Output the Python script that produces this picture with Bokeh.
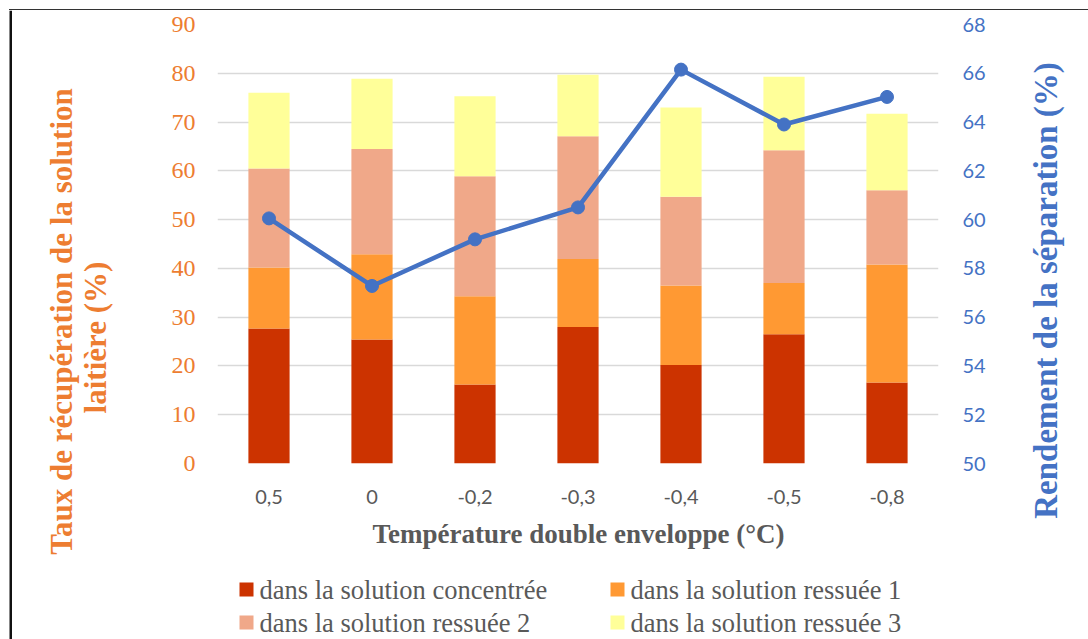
from math import pi
from bokeh.plotting import figure
from bokeh.layouts import column, row, Spacer
from bokeh.models import (ColumnDataSource, Range1d, FactorRange, LinearAxis,
                          SingleIntervalTicker, BoxAnnotation)
from bokeh.core.properties import value
from bokeh.embed import file_html
from bokeh.resources import INLINE

# ---------------- data ----------------
categories = ["0,5", "0", "-0,2", "-0,3", "-0,4", "-0,5", "-0,8"]
concentree = [27.7, 25.4, 16.2, 28.0, 20.2, 26.5, 16.6]
ressuee1 = [12.5, 17.5, 18.1, 13.9, 16.3, 10.5, 24.2]
ressuee2 = [20.3, 21.6, 24.6, 25.2, 18.2, 27.2, 15.2]
ressuee3 = [15.5, 14.4, 16.4, 12.6, 18.3, 15.1, 15.7]
rendement = [60.05, 57.28, 59.19, 60.5, 66.15, 63.9, 65.03]

series_keys = ["c", "r1", "r2", "r3"]
series_names = ["dans la solution concentrée", "dans la solution ressuée 1",
                "dans la solution ressuée 2", "dans la solution ressuée 3"]
series_colors = ["#CC3300", "#FF9933", "#F0A889", "#FFFF99"]

left_title = ["Taux de récupération de la solution", "laitière (%)"]
right_title = "Rendement de la séparation (%)"
x_title = "Température double enveloppe (°C)"

source = ColumnDataSource(dict(cat=categories, c=concentree, r1=ressuee1,
                               r2=ressuee2, r3=ressuee3, rend=rendement))

SERIF = "Liberation Serif"
SANS = "Lato"
GREY = "#595959"
ORANGE = "#ED7D31"
BLUE = "#4472C4"
FRAME_DARK = "#111111"
FRAME_GREY = "#333333"

# page geometry (pixels of the 1088 x 639 picture)
W, H = 1088, 639
TOP_H = 10          # height above the chart strips (white gap + frame line)
MAIN_L, MAIN_R = 150, 1000
MAIN_B = 512


def blank(x0, x1, y_top, y_bot):
    f = figure(width=x1 - x0, height=y_bot - y_top, output_backend="svg",
               toolbar_location=None, x_axis_type=None, y_axis_type=None,
               x_range=Range1d(x0, x1), y_range=Range1d(y_bot, y_top),
               min_border=0, frame_align=False)
    f.outline_line_color = None
    f.grid.grid_line_color = None
    f.background_fill_color = "white"
    f.border_fill_color = "white"
    return f


def vborder(f, y_top, y_bot):
    f.add_layout(BoxAnnotation(left=9, right=11.5, top=y_top, bottom=y_bot,
                               fill_color=FRAME_DARK, fill_alpha=1,
                               line_color=None))


def put_text(f, x, y, text, size, color, angle=0.0, bold=True, align="center"):
    f.text(x=[x], y=[y], text=[text], angle=angle,
           text_align=align, text_baseline="middle",
           text_font=value(SERIF), text_font_style="bold" if bold else "normal",
           text_font_size=size, text_color=color)


# ---------------- top frame line (a 1px dark strip) ----------------
line_strip = Spacer(width=W - 9, height=1,
                    styles={"background-color": FRAME_GREY})
top_block = column(Spacer(width=W, height=TOP_H - 1),
                   row(Spacer(width=9, height=1), line_strip))

# ---------------- main chart ----------------
p = figure(width=MAIN_R - MAIN_L, height=MAIN_B - TOP_H, output_backend="svg",
           toolbar_location=None, frame_align=False,
           x_range=FactorRange(*categories, range_padding=0),
           y_range=Range1d(0, 90),
           min_border_left=217 - MAIN_L, min_border_right=MAIN_R - 938,
           min_border_top=24 - TOP_H, min_border_bottom=MAIN_B - 463)
p.outline_line_color = None
p.background_fill_color = "white"
p.border_fill_color = "white"
p.extra_y_ranges = {"right": Range1d(50, 68)}

p.vbar_stack(series_keys, x="cat", width=0.4, source=source,
             color=series_colors, line_color=None)

p.line(x="cat", y="rend", source=source, y_range_name="right",
       line_width=4.5, color=BLUE)
p.scatter(x="cat", y="rend", source=source, y_range_name="right",
          size=13, color=BLUE)

p.xgrid.grid_line_color = None
p.ygrid.grid_line_color = "#D9D9D9"
p.ygrid.grid_line_width = 1.3

ya = p.yaxis[0]
ya.ticker = SingleIntervalTicker(interval=10)
ya.axis_line_color = None
ya.major_tick_line_color = None
ya.minor_tick_line_color = None
ya.major_tick_in = 0
ya.major_tick_out = 0
ya.major_label_standoff = 18
ya.major_label_text_font = SERIF
ya.major_label_text_font_size = "24px"
ya.major_label_text_color = ORANGE

ra = LinearAxis(y_range_name="right", ticker=SingleIntervalTicker(interval=2))
ra.axis_line_color = None
ra.major_tick_line_color = None
ra.minor_tick_line_color = None
ra.major_tick_in = 0
ra.major_tick_out = 0
ra.major_label_standoff = 20
ra.major_label_text_font = SANS
ra.major_label_text_font_size = "20px"
ra.major_label_text_color = BLUE
p.add_layout(ra, "right")

xa = p.xaxis[0]
xa.axis_line_color = None
xa.major_tick_line_color = None
xa.major_tick_in = 0
xa.major_tick_out = 0
xa.major_label_standoff = 26
xa.major_label_text_font = SANS
xa.major_label_text_font_size = "20px"
xa.major_label_text_color = GREY

# ---------------- left strip: frame line + left axis title ----------------
left = blank(0, MAIN_L, TOP_H, H)
vborder(left, TOP_H, H)
put_text(left, 61, 321, left_title[0], "31px", ORANGE, pi / 2)
put_text(left, 95, 337, left_title[1], "31px", ORANGE, pi / 2)

# ---------------- right strip: right axis title ----------------
right = blank(MAIN_R, W, TOP_H, H)
put_text(right, 1045, 290, right_title, "33px", BLUE, pi / 2)

# ---------------- bottom strip: x title + legend ----------------
bottom = blank(MAIN_L, MAIN_R, MAIN_B, H)
put_text(bottom, 578, 533, x_title, "27px", GREY)

# legend (2 columns x 2 rows, row-major like the original)
leg_cols = [246, 617]       # square centres
leg_rows = [589, 622]
sq_x, sq_y, tx_x, tx_y = [], [], [], []
for i in range(len(series_names)):
    cx = leg_cols[i % 2]
    cy = leg_rows[i // 2]
    sq_x.append(cx)
    sq_y.append(cy)
    tx_x.append(cx + 13)
    tx_y.append(cy)
bottom.rect(x=sq_x, y=sq_y, width=14, height=14, color=series_colors,
            line_color=None)
bottom.text(x=tx_x, y=tx_y, text=series_names, text_align="left",
            text_baseline="middle", text_font=value(SERIF),
            text_font_size="26.5px", text_color=GREY)

layout = column(top_block, row(left, column(p, bottom), right))

open("out.html", "w").write(file_html(layout, INLINE))
